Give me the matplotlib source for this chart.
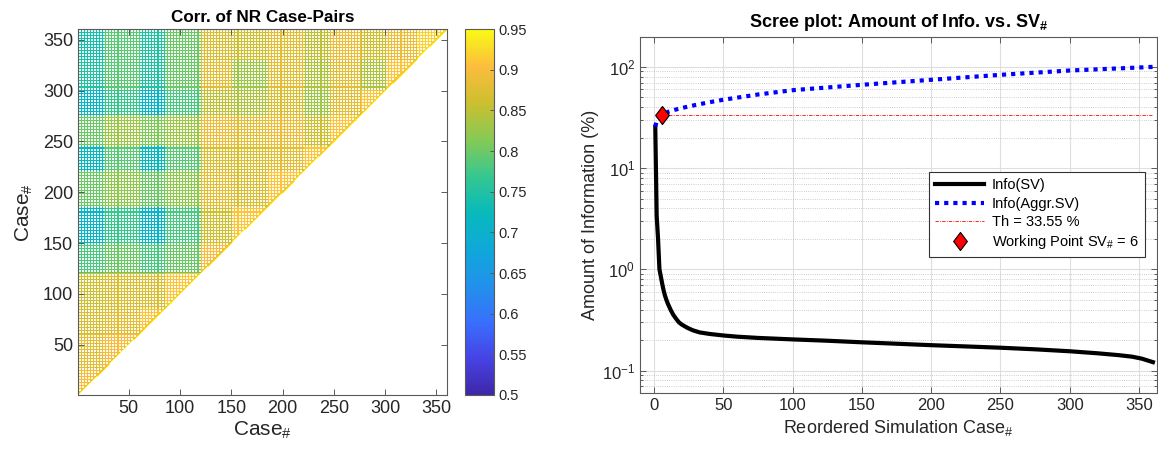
import numpy as np
import matplotlib
matplotlib.use('Agg')
import matplotlib.pyplot as plt
from matplotlib.colors import LinearSegmentedColormap
from matplotlib.path import Path
from matplotlib.ticker import FuncFormatter

plt.rcParams['font.family'] = ['Liberation Sans', 'DejaVu Sans']
plt.rcParams['mathtext.fontset'] = 'custom'
plt.rcParams['mathtext.rm'] = 'Liberation Sans'
plt.rcParams['mathtext.it'] = 'Liberation Sans:italic'
plt.rcParams['mathtext.bf'] = 'Liberation Sans:bold'

# ---- data: correlation of NR case pairs (block values)
n_cases = 360
seg_edges = [0, 25, 60, 85, 120, 150, 185, 220, 245, 275, 300, 330, 360]
block_corr = [
    [0.90],
    [0.88, 0.90],
    [0.87, 0.88, 0.91],
    [0.86, 0.87, 0.87, 0.91],
    [0.78, 0.80, 0.78, 0.80, 0.90],
    [0.71, 0.77, 0.71, 0.78, 0.86, 0.91],
    [0.80, 0.82, 0.80, 0.82, 0.88, 0.87, 0.91],
    [0.72, 0.79, 0.72, 0.79, 0.87, 0.87, 0.88, 0.91],
    [0.80, 0.83, 0.81, 0.83, 0.89, 0.88, 0.89, 0.86, 0.91],
    [0.71, 0.77, 0.71, 0.78, 0.85, 0.84, 0.87, 0.83, 0.88, 0.91],
    [0.75, 0.79, 0.75, 0.80, 0.88, 0.83, 0.88, 0.84, 0.88, 0.84, 0.91],
    [0.74, 0.79, 0.75, 0.80, 0.87, 0.86, 0.88, 0.85, 0.89, 0.86, 0.89, 0.92],
]
cbar_ticks = [0.5, 0.55, 0.6, 0.65, 0.7, 0.75, 0.8, 0.85, 0.9, 0.95]

# ---- data: scree plot
sv_x = [1, 2, 3, 4, 5, 6, 7, 8, 9, 10, 12, 14, 16, 18, 20, 24, 28, 33, 40, 50,
        60, 75, 100, 125, 150, 175, 200, 225, 250, 275, 300, 320, 335, 345, 352, 360]
sv_info = [25.6, 3.4, 2.0, 1.0, 0.85, 0.72, 0.62, 0.55, 0.50, 0.46, 0.40, 0.355,
           0.325, 0.30, 0.285, 0.265, 0.25, 0.238, 0.23, 0.222, 0.216, 0.21, 0.203,
           0.197, 0.19, 0.184, 0.178, 0.173, 0.168, 0.162, 0.155, 0.148, 0.142,
           0.137, 0.131, 0.121]
agg_x = [1, 2, 3, 4, 5, 6, 10, 15, 20, 30, 40, 50, 75, 100, 150, 200, 250, 300, 350, 360]
agg_info = [25.6, 29.2, 31.2, 32.2, 32.9, 33.55, 35.8, 37.6, 39.2, 42.0, 44.7, 47.3,
            53.3, 58.8, 66.5, 74.5, 83.4, 92.0, 98.5, 100.0]
th = 33.55
wp = 6

# parula-like colormap
parula = LinearSegmentedColormap.from_list('parula', [
    (0.00, (0.2422, 0.1504, 0.6603)),
    (0.10, (0.2760, 0.2650, 0.9000)),
    (0.20, (0.2200, 0.4400, 0.9900)),
    (0.30, (0.1300, 0.5700, 0.9200)),
    (0.40, (0.0600, 0.6600, 0.8500)),
    (0.50, (0.0300, 0.7300, 0.7300)),
    (0.60, (0.2200, 0.7800, 0.5600)),
    (0.70, (0.5300, 0.7900, 0.3300)),
    (0.80, (0.8000, 0.7500, 0.1900)),
    (0.90, (0.9900, 0.7400, 0.2400)),
    (1.00, (0.9769, 0.9839, 0.0805)),
])

cases = np.arange(1, n_cases + 1)
seg = np.searchsorted(seg_edges, cases, side='left') - 1
M = np.full((n_cases, n_cases), np.nan)
for r in range(n_cases):
    for c in range(r + 1):
        M[r, c] = block_corr[seg[r]][seg[c]]
    M[r, r] = 1.0

fig = plt.figure(figsize=(11.58, 4.54), dpi=100)
fig.patch.set_facecolor('white')
spine_c = '#5a5a5a'
tick_c = '#262626'

# ---------------- left: heatmap
ax1 = fig.add_axes([0.0674, 0.130, 0.3187, 0.806])
im = ax1.imshow(M, origin='lower', extent=(0.5, n_cases + 0.5, 0.5, n_cases + 0.5),
                cmap=parula, vmin=0.5, vmax=0.95, aspect='auto', interpolation='nearest')
# white mesh holes, as in the original rendering
gx, gy = np.meshgrid(np.arange(2, n_cases + 1, 3), np.arange(2, n_cases + 1, 3))
keep = gy > gx + 1
ax1.scatter(gx[keep], gy[keep], s=0.9, marker='s', c='white', linewidths=0, alpha=0.9)
ax1.set_xlim(0.5, n_cases + 0.5)
ax1.set_ylim(0.5, n_cases + 0.5)
ax1.set_xticks(np.arange(50, 351, 50))
ax1.set_yticks(np.arange(50, 351, 50))
ax1.tick_params(direction='in', top=True, right=True, labelsize=13, colors=spine_c,
                labelcolor=tick_c, length=4, width=0.7)
for s in ax1.spines.values():
    s.set_color(spine_c)
    s.set_linewidth(0.8)
ax1.set_title('Corr. of NR Case-Pairs', fontsize=12.3, fontweight='bold', pad=5)
ax1.set_xlabel(r'Case$_\mathrm{\#}$', fontsize=15, color=tick_c, labelpad=2)
ax1.set_ylabel(r'Case$_\mathrm{\#}$', fontsize=15, color=tick_c, labelpad=6)

cax = fig.add_axes([0.4016, 0.130, 0.025, 0.806])
cb = fig.colorbar(im, cax=cax, ticks=cbar_ticks)
cb.ax.yaxis.set_major_formatter(FuncFormatter(lambda v, p: '{:g}'.format(round(v, 2))))
cb.ax.tick_params(direction='in', labelsize=10.5, colors=spine_c, labelcolor=tick_c,
                  length=3, width=0.7)
cb.outline.set_edgecolor(spine_c)
cb.outline.set_linewidth(0.8)

# ---------------- right: scree plot
ax2 = fig.add_axes([0.5527, 0.1344, 0.4465, 0.784])
ax2.semilogy(sv_x, sv_info, color='k', lw=3, label='Info(SV)', zorder=3)
ax2.semilogy(agg_x, agg_info, color='b', lw=3, linestyle=(0, (1, 1.2)),
             dash_capstyle='butt', label='Info(Aggr.SV)', zorder=3)
ax2.plot([wp, n_cases], [th, th], color='r', lw=0.6, linestyle=(0, (4, 1.5, 1, 1.5)),
         label='Th = 33.55 %', zorder=2)
diamond = Path([(0, 1), (0.76, 0), (0, -1), (-0.76, 0), (0, 1)],
               [Path.MOVETO, Path.LINETO, Path.LINETO, Path.LINETO, Path.CLOSEPOLY])
ax2.plot([wp], [th], linestyle='none', marker=diamond, ms=13, mfc='r', mec='k', mew=0.8,
         label=r'Working Point SV$_\mathrm{\#}$ = 6', zorder=4)
ax2.set_xlim(-10, 363)
ax2.set_ylim(0.06, 197)
ax2.set_xticks(np.arange(0, 351, 50))
ax2.grid(True, which='major', color='#dedede', lw=0.8)
ax2.grid(True, which='minor', axis='y', color='#bdbdbd', lw=0.6, linestyle=':')
ax2.set_axisbelow(True)
ax2.tick_params(which='both', direction='in', top=True, right=True, labelsize=12,
                colors=spine_c, labelcolor=tick_c, width=0.7)
ax2.tick_params(which='major', length=4)
ax2.tick_params(which='minor', length=2)
for s in ax2.spines.values():
    s.set_color(spine_c)
    s.set_linewidth(0.8)
ax2.set_title(r'Scree plot: Amount of Info. vs. SV$_\mathbf{\#}$', fontsize=13,
              fontweight='bold', pad=7)
ax2.set_xlabel(r'Reordered Simulation Case$_\mathrm{\#}$', fontsize=13, color=tick_c,
               labelpad=4)
ax2.set_ylabel('Amount of Information (%)', fontsize=13, color=tick_c, labelpad=2)
leg = ax2.legend(loc='upper right', bbox_to_anchor=(0.99, 0.64), fontsize=10.5,
                 handlelength=3.4, fancybox=False, framealpha=1, edgecolor='#333333',
                 borderpad=0.4, labelspacing=0.3, handletextpad=0.5)
leg.get_frame().set_linewidth(0.8)

fig.savefig('out.png', dpi=100, facecolor='white')
